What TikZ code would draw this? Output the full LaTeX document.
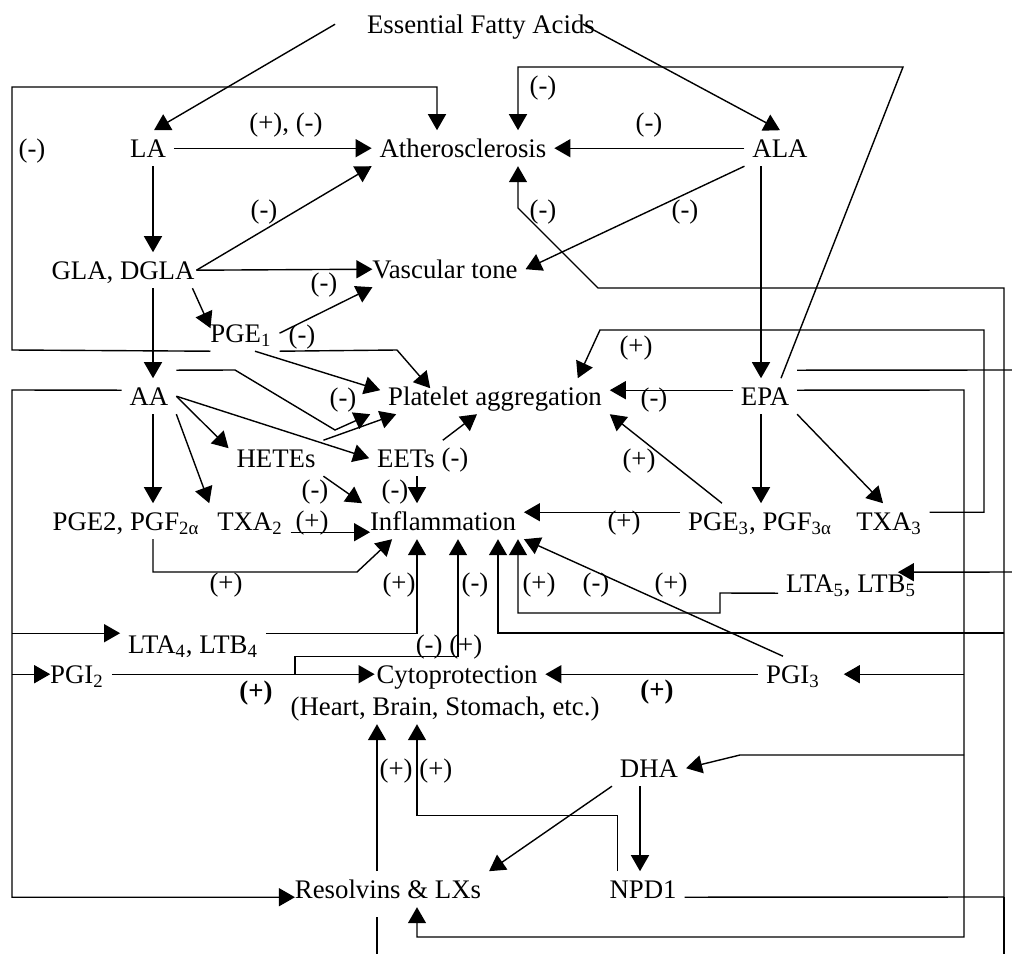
\documentclass[tikz,border=0pt]{standalone}
\usepackage{fontspec}
\setmainfont{Liberation Serif}
\usetikzlibrary{arrows.meta}

\begin{document}
\begin{tikzpicture}[x=0.5pt, y=-0.5pt, line width=0.7pt, font=\fontsize{13.4}{16}\selectfont]
	\tikzstyle{txt}=[anchor=base, inner sep=2pt, outer sep=2pt, text height=9.4pt, text depth=0.6pt]
	\tikzstyle{sign}=[anchor=base, inner sep=1pt]
	\tikzstyle{arr}=[-{Triangle[length=8pt,width=9pt]}]

	\useasboundingbox (0,0) rectangle (1012,954);

	% Fatty acids
	\node at (481,33) [txt] (efa) {Essential Fatty Acids};
	\node at (148,157) [txt] (la) {LA};
	\node at (780,157) [txt] (ala) {ALA};
	\node at (123,279) [txt] (gla) {GLA, DGLA};
	\node at (241,342) [txt] (pge1) {PGE\textsubscript{1}};
	\node at (149,405) [txt] (aa) {AA};
	\node at (765,405) [txt] (epa) {EPA};
	\node at (276,467) [txt] (hetes) {HETEs};
	\node at (406,467) [txt] (eets) {EETs};
	\node at (126,530) [txt] (pge2) {PGE2, PGF\textsubscript{2α}};
	\node at (250,530) [txt] (txa2) {TXA\textsubscript{2}};
	\node at (760,530) [txt] (pge3) {PGE\textsubscript{3}, PGF\textsubscript{3α}};
	\node at (889,530) [txt] (txa3) {TXA\textsubscript{3}};
	\node at (851,592) [txt] (lta5) {LTA\textsubscript{5}, LTB\textsubscript{5}};
	\node at (193,653) [txt] (lta4) {LTA\textsubscript{4}, LTB\textsubscript{4}};
	\node at (77,683) [txt] (pgi2) {PGI\textsubscript{2}};
	\node at (793,683) [txt] (pgi3) {PGI\textsubscript{3}};
	\node at (649,777) [txt] (dha) {DHA};
	\node at (643,898) [txt] (npd1) {NPD1};
	\node at (388,898) [txt] (resolv) {Resolvins \& LXs};

	% Effects
	\node at (463,157) [txt] (ather) {Atherosclerosis};
	\node at (445,278) [txt] (vasc) {Vascular tone};
	\node at (495,405) [txt] (plt) {Platelet aggregation};
	\node at (443,530) [txt] (infl) {Inflammation};
	\node at (457,683) [txt] (cyto) {Cytoprotection};
	\node at (445,715) [txt] (heart) {(Heart, Brain, Stomach, etc.)};

	% columns and rails
	\coordinate (colA) at (153,0);
	\coordinate (colB) at (761,0);
	\coordinate (colC) at (417,0);
	\coordinate (colD) at (458,0);
	\coordinate (colE) at (498,0);
	\coordinate (colF) at (518,0);
	\coordinate (colG) at (377,0);
	\coordinate (colH) at (640,0);
	\coordinate (colP) at (295,0);
	\coordinate (railL) at (12,390);
	\coordinate (railR) at (964,390);
	\coordinate (railT) at (984,330);
	\coordinate (railN) at (1004,897);
	\coordinate (edgeA) at (1012,370);
	\coordinate (edgeB) at (1012,572);
	\coordinate (lta4in) at ([yshift=5.5pt]lta4.west);
	\coordinate (pgi2in) at ([xshift=4pt]pgi2.west);

	%----------------------------------------------------%
	%                  connect nodes                     %
	%----------------------------------------------------%

	% Essential fatty acids
	\draw[arr] ([xshift=-12pt]efa.west) -- ([xshift=3pt]la.north);
	\draw[arr] ([xshift=-10pt]efa.east) -- (ala.north);

	% LA
	\draw[arr] (la.east) -- (ather.west);
	\draw[arr] (la.south -| colA) -- (gla.north -| colA);

	% ALA
	\draw[arr] (ala.west) -- (ather.east);
	\draw[arr] (ala.south west) -- (vasc.east);
	\draw[arr] (ala.south -| colB) -- (epa.north -| colB);

	% GLA, DGLA
	\draw[arr] ([xshift=-3pt]gla.east) -- (ather.south west);
	\draw[arr] ([xshift=-3pt]gla.east) -- ([xshift=4pt]vasc.west);
	\draw[arr] (gla.south -| colA) -- (aa.north -| colA);
	\draw[arr] ([xshift=-5pt]gla.south east) -- ([xshift=4pt,yshift=2.5pt]pge1.west);

	% PGE1
	\draw[arr] ([xshift=4pt]pge1.south west) -- (12,350) -- (12,87) -| ([xshift=-13pt]ather.north);
	\draw[arr] (pge1.east) -- ([xshift=4pt]vasc.south west);
	\draw[arr] (pge1.south east) -- (397,350) -- ([xshift=25pt,yshift=-5pt]plt.north west);
	\draw[arr] ([xshift=7pt]pge1.south) -- ([yshift=3pt]plt.west);

	% AA
	\draw[arr] ([yshift=4pt]aa.north east) -- (235,370) -- (335,430) -- ([xshift=-5pt]plt.south west);
	\draw[arr] (aa.east) -- ([yshift=-4pt]hetes.north west);
	\draw[arr] (aa.east) -- (eets.west);
	\draw[arr] (aa.south -| colA) -- (pge2.north -| colA);
	\draw[arr] (aa.south east) -- (txa2.north west);
	\draw[arr] ([yshift=3pt]aa.west) -- (railL) |- ([xshift=4pt,yshift=-4pt]resolv.west);
	\draw[arr] (railL |- lta4in) -- (lta4in);
	\draw[arr] (railL |- pgi2in) -- (pgi2in);

	% HETEs, EETs
	\draw[arr] (hetes.north east) -- ([xshift=8pt]plt.south west);
	\draw[arr] (hetes.south east) -- (infl.north west);
	\draw[arr] (eets.north east) -- ([xshift=-9pt]plt.south);
	\draw[arr] (eets.south -| colC) -- (infl.north -| colC);

	% PGE2, TXA2
	\draw[arr] (pge2.south -| colA) |- (357,572) -- ([xshift=15pt]infl.south west);
	\draw[arr] ([yshift=-5.5pt]txa2.east) -- ([xshift=4pt,yshift=-5.5pt]infl.west);

	% EPA
	\draw[arr] ([yshift=3pt]epa.west) -- ([yshift=3pt]plt.east);
	\draw[arr] (epa.south -| colB) -- (pge3.north -| colB);
	\draw[arr] (epa.south east) -- ([xshift=-3pt]txa3.north);
	\draw[arr] ([xshift=8pt]epa.north) -- (903,67) -| (ather.north -| colF);
	\draw ([yshift=4pt]epa.north east) -- (edgeA);
	\draw[arr] ([yshift=3pt]epa.east) -- (railR) -- (964,937) -| (resolv.south -| colC);
	\draw[arr] (railR |- pgi3.east) -- ([xshift=8pt]pgi3.east);
	\draw[arr] (railR |- 0,755) -- (740,755) -- (dha.east);

	% PGE3, TXA3
	\draw[arr] ([xshift=-19pt]pge3.north) -- (plt.south east);
	\draw[arr] ([yshift=4.5pt]pge3.west) -- ([yshift=4.5pt]infl.east);
	\draw[arr] ([yshift=4.5pt]txa3.east) -| (railT) -- (600,330) -- ([xshift=-16pt]plt.north east);

	% LTA4, LTB4 and LTA5, LTB5
	\draw[arr] ([yshift=5.5pt]lta4.east) -| (infl.south -| colC);
	\draw[arr] ([yshift=-5pt]lta5.west) -- (720,593) -- (720,613) -| (infl.south -| colF);
	\draw[arr] (edgeB) -- ([xshift=-13pt,yshift=5.5pt]lta5.east);

	% PGI2, PGI3
	\draw[arr] (pgi2.east) -- ([xshift=3pt]cyto.west);
	\draw[arr] (colP |- pgi2.east) -- ++(0,-18) -| (infl.south -| colD);
	\draw[arr] (pgi3.west) -- (cyto.east);
	\draw[arr] ([xshift=-5pt]pgi3.north) -- (infl.south east);

	% DHA, NPD1, Resolvins
	\draw[arr] (dha.south -| colH) -- (npd1.north -| colH);
	\draw[arr] (dha.south west) -- (resolv.north east);
	\draw[arr] ([xshift=8pt]npd1.north west) -- ++(0,-56) -| (heart.south -| colC);
	\draw[arr] (resolv.north -| colG) -- (heart.south -| colG);
	\draw[arr] ([yshift=-4pt]npd1.east) -- (railN) -- (1004,288) -- (598,288) -- (518,208) -- (ather.south -| colF);
	\draw[arr] (railN |- 0,633) -| (infl.south -| colE);
	\draw (railN) -- (1004,954);
	\draw (resolv.south -| colG) ++(0,10) -- (377,954);

	% -------------------------------------------%
	%              Signs                         %
	%--------------------------------------------%
	\foreach \x/\y/\s [count=\i] in {286/131/{(+), (-)}, 32/157/(-), 543/94/(-), 649/131/(-),
		264/218/(-), 543/218/(-), 685/218/(-), 324/291/(-), 302/343/(-), 343/406/(-),
		654/406/(-), 636/354/(+), 455/466/(-), 639/467/(+), 315/498/(-), 395/498/(-),
		312/529/(+), 624/529/(+), 226/591/(+), 399/591/(+), 475/591/(-), 539/591/(+),
		596/591/(-), 671/591/(+), 449/653/{(-) (+)}, 416/777/{(+) (+)}}
		\node at (\x,\y) [sign] (sign_\i) {\s};
	\node at (256,699) [sign, font=\fontsize{13.4}{16}\selectfont\bfseries] (bold_1) {(+)};
	\node at (657,698) [sign, font=\fontsize{13.4}{16}\selectfont\bfseries] (bold_2) {(+)};

\end{tikzpicture}
\end{document}
